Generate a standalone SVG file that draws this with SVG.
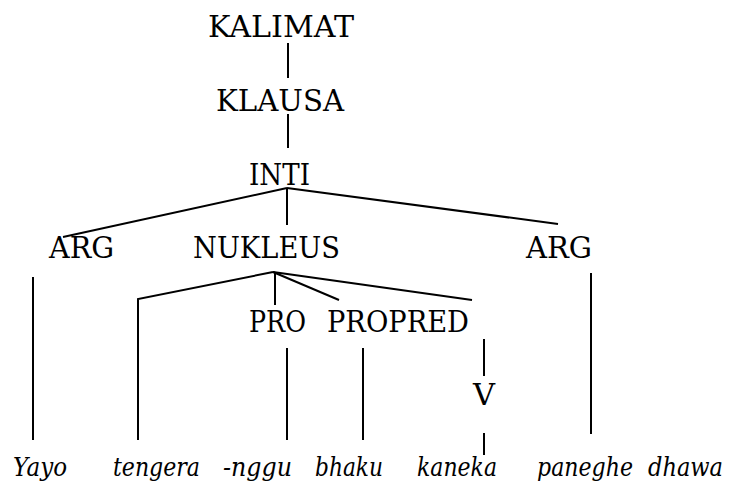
<svg xmlns="http://www.w3.org/2000/svg" width="729" height="483" viewBox="0 0 729 483">
<style>
text{font-family:'DejaVu Serif','Noto Serif',serif;fill:#000}
.n{font-size:30px}
.w{font-size:26px;font-style:italic}
.c line,.c polyline{stroke:#000;stroke-width:2;fill:none}
</style>
<rect width="729" height="483" fill="#fff"/>
<g class="c" id="connectors">
<line x1="288" y1="43" x2="288" y2="78"/>
<line x1="288" y1="114" x2="288" y2="148"/>
<line x1="287" y1="188" x2="63" y2="237"/>
<line x1="287" y1="188" x2="287" y2="225"/>
<line x1="287" y1="188" x2="558" y2="224"/>
<line x1="33" y1="277" x2="33" y2="440"/>
<polyline points="273,272 138,299 138,440"/>
<line x1="275" y1="272" x2="275" y2="305"/>
<line x1="273" y1="272" x2="339" y2="300"/>
<line x1="273" y1="272" x2="472" y2="300"/>
<line x1="287" y1="348" x2="287" y2="440"/>
<line x1="363" y1="348" x2="363" y2="440"/>
<line x1="591" y1="273" x2="591" y2="434"/>
<line x1="484" y1="339" x2="484" y2="376"/>
<line x1="484" y1="433" x2="484" y2="455"/>
</g>
<g id="kalimat"><text class="n" x="208" y="37" textLength="146" lengthAdjust="spacingAndGlyphs">KALIMAT</text></g>
<g id="klausa"><text class="n" x="216" y="111" textLength="128" lengthAdjust="spacingAndGlyphs">KLAUSA</text></g>
<g id="inti"><text class="n" x="249" y="185" textLength="61" lengthAdjust="spacingAndGlyphs">INTI</text></g>
<g id="arg1"><text class="n" x="49" y="258" textLength="65" lengthAdjust="spacingAndGlyphs">ARG</text></g>
<g id="nukleus"><text class="n" x="193" y="258" textLength="147" lengthAdjust="spacingAndGlyphs">NUKLEUS</text></g>
<g id="arg2"><text class="n" x="526" y="258" textLength="66" lengthAdjust="spacingAndGlyphs">ARG</text></g>
<g id="pro"><text class="n" x="249" y="332" textLength="57" lengthAdjust="spacingAndGlyphs">PRO</text></g>
<g id="propred"><text class="n" x="327" y="332" textLength="142" lengthAdjust="spacingAndGlyphs">PROPRED</text></g>
<g id="v"><text class="n" x="473" y="405" textLength="22" lengthAdjust="spacingAndGlyphs">V</text></g>
<g id="w-yayo"><text class="w" x="13" y="476" textLength="54" lengthAdjust="spacingAndGlyphs">Yayo</text></g>
<g id="w-tengera"><text class="w" x="113" y="476" textLength="87" lengthAdjust="spacingAndGlyphs">tengera</text></g>
<g id="w-nggu"><text class="w" x="223" y="476" textLength="69" lengthAdjust="spacingAndGlyphs">-nggu</text></g>
<g id="w-bhaku"><text class="w" x="315" y="476" textLength="68" lengthAdjust="spacingAndGlyphs">bhaku</text></g>
<g id="w-kaneka"><text class="w" x="417" y="476" textLength="80" lengthAdjust="spacingAndGlyphs">kaneka</text></g>
<g id="w-paneghe"><text class="w" x="537" y="476" textLength="96" lengthAdjust="spacingAndGlyphs">paneghe</text></g>
<g id="w-dhawa"><text class="w" x="723" y="476" text-anchor="end" textLength="75" lengthAdjust="spacingAndGlyphs">dhawa</text></g>
</svg>
